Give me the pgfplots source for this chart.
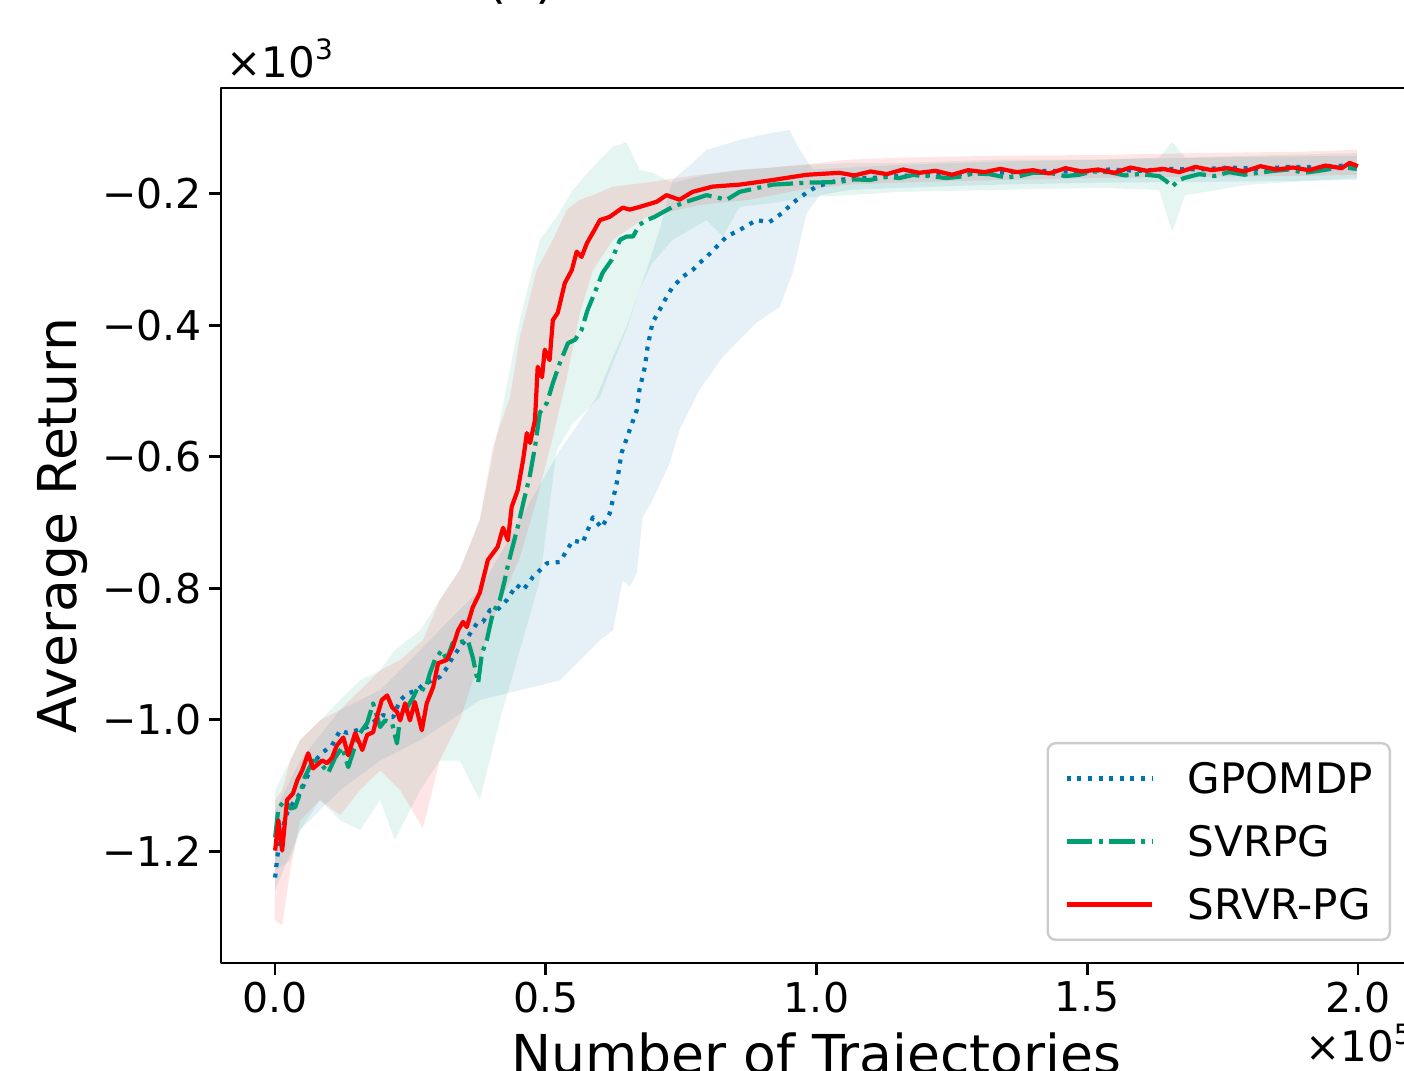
\documentclass[border=0pt]{standalone}
\usepackage{fontspec}
\setmainfont{DejaVu Sans}
\usepackage{pgfplots}
\pgfplotsset{compat=1.18}
\definecolor{cbblue}{HTML}{0072B2}
\definecolor{cbgreen}{HTML}{009E73}
\definecolor{cbred}{HTML}{FF0000}
\begin{document}
\begin{tikzpicture}
\begin{axis}[
  scale only axis, width=595.5pt, height=437.5pt,
  xmin=-0.1, xmax=2.1, ymin=-1.370, ymax=-0.039,
  axis line style={line width=1.35pt},
  every tick/.style={black, line width=1.35pt},
  major tick length=6pt, tick align=outside,
  xtick pos=bottom, ytick pos=left,
  xtick={0,0.5,1,1.5,2}, xticklabels={0.0,0.5,1.0,1.5,2.0},
  ytick={-1.2,-1.0,-0.8,-0.6,-0.4,-0.2},
  yticklabels={−1.2,−1.0,−0.8,−0.6,−0.4,−0.2},
  ticklabel style={font=\fontsize{20.5}{24}\selectfont},
  xlabel={Number of Trajectories},
  ylabel={Average Return},
  xlabel style={at={(axis description cs:0.5,-0.1264)}, anchor=base, font=\fontsize{26.8}{30}\selectfont},
  ylabel style={at={(axis description cs:-0.1212,0.5)}, anchor=base, rotate=0, font=\fontsize{26.8}{30}\selectfont},
  legend style={at={(axis description cs:1,0)}, anchor=south east, xshift=-10.5pt, yshift=11pt,
    draw=black!20, line width=1.2pt, rounded corners=4pt,
    fill=white, fill opacity=0.8, text opacity=1, draw opacity=1,
    font=\fontsize{21}{25}\selectfont,
    inner xsep=8.5pt, inner ysep=10pt, row sep=16.2pt, column sep=17pt,
    nodes={inner sep=0pt, text height=15.3pt, text depth=0pt}},
  legend cell align=left,
  legend image code/.code={\draw[#1] (0pt,0pt) -- (42.5pt,0pt);},
  line join=round,
]
% ---- bands ----
\addplot[fill=cbblue, fill opacity=0.1, draw=none, forget plot] coordinates {
(0,-1.138) (0.046,-1.062) (0.120,-0.985) (0.194,-0.955) (0.268,-0.894) (0.323,-0.848) (0.378,-0.803) (0.452,-0.696) (0.526,-0.590) (0.594,-0.509) (0.624,-0.448) (0.649,-0.402) (0.686,-0.316) (0.710,-0.255) (0.734,-0.179) (0.771,-0.153) (0.797,-0.133) (0.830,-0.125) (0.858,-0.118) (0.890,-0.112) (0.919,-0.107) (0.950,-0.103) (0.969,-0.133) (0.993,-0.163) (1.061,-0.160) (1.153,-0.156) (1.338,-0.151) (1.522,-0.148) (1.707,-0.145) (1.998,-0.142)
(1.998,-0.179) (1.707,-0.182) (1.522,-0.183) (1.338,-0.186) (1.153,-0.191) (1.061,-0.194) (1.006,-0.202) (0.982,-0.229) (0.963,-0.296) (0.956,-0.320) (0.932,-0.372) (0.889,-0.396) (0.827,-0.448) (0.784,-0.498) (0.747,-0.559) (0.729,-0.609) (0.697,-0.666) (0.679,-0.692) (0.668,-0.777) (0.655,-0.798) (0.642,-0.788) (0.624,-0.864) (0.600,-0.879) (0.526,-0.940) (0.452,-0.955) (0.378,-0.970) (0.323,-1.001) (0.268,-1.031) (0.194,-1.062) (0.120,-1.107) (0.046,-1.168) (0,-1.259)
} -- cycle;
\addplot[fill=cbgreen, fill opacity=0.1, draw=none, forget plot] coordinates {
(0,-1.107) (0.028,-1.062) (0.046,-1.031) (0.083,-1.001) (0.120,-0.970) (0.157,-0.940) (0.194,-0.925) (0.221,-0.894) (0.268,-0.864) (0.304,-0.818) (0.341,-0.772) (0.378,-0.696) (0.415,-0.544) (0.452,-0.392) (0.489,-0.270) (0.520,-0.235) (0.550,-0.194) (0.575,-0.170) (0.600,-0.148) (0.624,-0.128) (0.649,-0.122) (0.673,-0.163) (0.697,-0.168) (0.734,-0.183) (0.797,-0.171) (0.827,-0.167) (0.858,-0.163) (0.919,-0.160) (0.982,-0.156) (1.061,-0.153) (1.153,-0.153) (1.338,-0.148) (1.522,-0.148) (1.633,-0.145) (1.657,-0.121) (1.681,-0.145) (1.799,-0.142) (1.998,-0.138)
(1.998,-0.176) (1.799,-0.186) (1.681,-0.202) (1.657,-0.258) (1.633,-0.194) (1.522,-0.191) (1.338,-0.194) (1.153,-0.197) (1.061,-0.202) (0.982,-0.205) (0.919,-0.214) (0.858,-0.220) (0.827,-0.265) (0.797,-0.240) (0.734,-0.270) (0.697,-0.305) (0.673,-0.346) (0.649,-0.407) (0.624,-0.457) (0.600,-0.509) (0.550,-0.549) (0.520,-0.590) (0.489,-0.788) (0.452,-0.894) (0.415,-1.001) (0.378,-1.122) (0.341,-1.062) (0.304,-1.062) (0.268,-1.107) (0.221,-1.183) (0.194,-1.122) (0.157,-1.168) (0.120,-1.153) (0.083,-1.122) (0.046,-1.168) (0.028,-1.214) (0,-1.229)
} -- cycle;
\addplot[fill=cbred, fill opacity=0.1, draw=none, forget plot] coordinates {
(0,-1.122) (0.013,-1.107) (0.028,-1.062) (0.046,-1.031) (0.083,-1.001) (0.120,-0.985) (0.157,-0.955) (0.194,-0.925) (0.231,-0.909) (0.273,-0.879) (0.304,-0.818) (0.341,-0.772) (0.378,-0.696) (0.402,-0.585) (0.434,-0.509) (0.452,-0.418) (0.483,-0.316) (0.513,-0.270) (0.539,-0.224) (0.563,-0.209) (0.587,-0.202) (0.624,-0.189) (0.686,-0.183) (0.784,-0.171) (0.876,-0.163) (0.969,-0.156) (1.061,-0.148) (1.153,-0.145) (1.338,-0.142) (1.522,-0.141) (1.707,-0.138) (1.891,-0.136) (1.998,-0.133)
(1.998,-0.171) (1.891,-0.173) (1.707,-0.174) (1.522,-0.176) (1.338,-0.179) (1.153,-0.183) (1.061,-0.186) (0.969,-0.194) (0.876,-0.209) (0.784,-0.217) (0.686,-0.235) (0.624,-0.270) (0.587,-0.316) (0.563,-0.381) (0.539,-0.479) (0.513,-0.570) (0.483,-0.666) (0.452,-0.753) (0.434,-0.788) (0.402,-0.848) (0.378,-0.909) (0.341,-1.001) (0.304,-1.062) (0.273,-1.165) (0.231,-1.107) (0.194,-1.077) (0.157,-1.107) (0.120,-1.145) (0.083,-1.122) (0.046,-1.153) (0.028,-1.229) (0.013,-1.313) (0,-1.305)
} -- cycle;
% ---- GPOMDP ----
\addplot[cbblue, line width=2.1pt, dash pattern=on 2pt off 3.3pt] coordinates {
(0,-1.240) (0.004,-1.209) (0.009,-1.179) (0.022,-1.142) (0.033,-1.127) (0.046,-1.112) (0.059,-1.087) (0.074,-1.062) (0.089,-1.049) (0.105,-1.039) (0.120,-1.016) (0.133,-1.020) (0.151,-1.016) (0.170,-1.011) (0.185,-1.001) (0.199,-0.993) (0.218,-0.996) (0.231,-0.970) (0.245,-0.960) (0.262,-0.955) (0.273,-0.947) (0.290,-0.940) (0.304,-0.935) (0.314,-0.925) (0.328,-0.905) (0.341,-0.890) (0.356,-0.874) (0.373,-0.853) (0.384,-0.851) (0.397,-0.833) (0.410,-0.833) (0.428,-0.818) (0.446,-0.795) (0.458,-0.803) (0.476,-0.783) (0.502,-0.762) (0.526,-0.760) (0.550,-0.727) (0.568,-0.731) (0.587,-0.692) (0.603,-0.708) (0.618,-0.686) (0.631,-0.640) (0.640,-0.594) (0.655,-0.559) (0.668,-0.529) (0.673,-0.498) (0.683,-0.463) (0.688,-0.433) (0.697,-0.396) (0.710,-0.377) (0.723,-0.357) (0.734,-0.342) (0.753,-0.326) (0.771,-0.316) (0.784,-0.305) (0.797,-0.296) (0.815,-0.281) (0.834,-0.265) (0.858,-0.255) (0.889,-0.240) (0.913,-0.243) (0.937,-0.229) (0.956,-0.214) (0.982,-0.198) (1.000,-0.189) (1.024,-0.183) (1.042,-0.179)
(1.07,-0.176) (1.10,-0.176) (1.153,-0.173) (1.208,-0.171) (1.264,-0.170) (1.319,-0.168) (1.375,-0.167) (1.430,-0.165) (1.485,-0.167) (1.541,-0.163) (1.596,-0.165) (1.651,-0.162) (1.707,-0.163) (1.762,-0.160) (1.817,-0.162) (1.873,-0.159) (1.928,-0.160) (1.974,-0.157) (1.998,-0.159)
};
\addlegendentry{GPOMDP}
% ---- SVRPG ----
\addplot[cbgreen, line width=2.1pt, dash pattern=on 12.8pt off 3.2pt on 2pt off 3.2pt] coordinates {
(0,-1.179) (0.006,-1.135) (0.018,-1.122) (0.028,-1.135) (0.037,-1.133) (0.046,-1.112) (0.055,-1.087) (0.070,-1.062) (0.083,-1.065) (0.098,-1.081) (0.111,-1.057) (0.124,-1.042) (0.135,-1.072) (0.148,-1.039) (0.157,-1.020) (0.170,-1.005) (0.181,-0.975) (0.194,-1.011) (0.203,-1.001) (0.216,-1.005) (0.225,-1.036) (0.231,-0.996) (0.244,-0.981) (0.255,-0.966) (0.264,-0.950) (0.277,-0.955) (0.286,-0.929) (0.295,-0.909) (0.308,-0.894) (0.317,-0.909) (0.328,-0.883) (0.341,-0.882) (0.356,-0.879) (0.365,-0.905) (0.375,-0.944) (0.382,-0.899) (0.391,-0.879) (0.402,-0.838) (0.415,-0.818) (0.424,-0.788) (0.430,-0.765) (0.437,-0.742) (0.448,-0.707) (0.461,-0.661) (0.470,-0.631) (0.480,-0.585) (0.489,-0.533) (0.502,-0.518) (0.513,-0.488) (0.526,-0.457) (0.541,-0.427) (0.554,-0.422) (0.566,-0.407) (0.577,-0.377) (0.590,-0.351) (0.605,-0.320) (0.622,-0.300) (0.637,-0.270) (0.649,-0.265) (0.661,-0.265) (0.673,-0.247) (0.686,-0.240) (0.701,-0.235) (0.714,-0.229) (0.734,-0.220) (0.760,-0.212) (0.797,-0.202) (0.834,-0.209) (0.858,-0.197) (0.919,-0.186) (0.982,-0.183)
(1.042,-0.182) (1.07,-0.178) (1.098,-0.179) (1.13,-0.174) (1.153,-0.176) (1.18,-0.171) (1.208,-0.173) (1.24,-0.176) (1.264,-0.174) (1.29,-0.169) (1.319,-0.170) (1.35,-0.175) (1.375,-0.173) (1.40,-0.168) (1.430,-0.168) (1.46,-0.173) (1.485,-0.171) (1.51,-0.166) (1.541,-0.167) (1.57,-0.172) (1.596,-0.170) (1.633,-0.173) (1.645,-0.180) (1.657,-0.189) (1.668,-0.180) (1.679,-0.176) (1.707,-0.170) (1.735,-0.173) (1.762,-0.167) (1.79,-0.171) (1.817,-0.168) (1.845,-0.165) (1.873,-0.163) (1.90,-0.168) (1.928,-0.165) (1.95,-0.162) (1.974,-0.160) (1.998,-0.162)
};
\addlegendentry{SVRPG}
% ---- SRVR-PG ----
\addplot[cbred, line width=2.1pt] coordinates {
(0,-1.199) (0.006,-1.153) (0.013,-1.199) (0.022,-1.122) (0.033,-1.112) (0.041,-1.092) (0.050,-1.077) (0.061,-1.051) (0.070,-1.074) (0.087,-1.062) (0.096,-1.066) (0.105,-1.058) (0.114,-1.039) (0.126,-1.027) (0.135,-1.054) (0.148,-1.020) (0.161,-1.046) (0.170,-1.023) (0.181,-1.019) (0.190,-0.990) (0.197,-0.970) (0.207,-0.963) (0.216,-0.981) (0.225,-0.988) (0.231,-1.001) (0.240,-0.975) (0.249,-1.001) (0.258,-0.973) (0.271,-1.016) (0.280,-0.975) (0.292,-0.950) (0.301,-0.914) (0.317,-0.909) (0.328,-0.890) (0.338,-0.864) (0.347,-0.851) (0.354,-0.859) (0.365,-0.829) (0.378,-0.807) (0.393,-0.757) (0.411,-0.737) (0.421,-0.708) (0.430,-0.727) (0.437,-0.676) (0.448,-0.651) (0.458,-0.605) (0.465,-0.564) (0.471,-0.579) (0.480,-0.544) (0.485,-0.463) (0.493,-0.479) (0.498,-0.437) (0.507,-0.453) (0.513,-0.392) (0.522,-0.381) (0.535,-0.336) (0.548,-0.316) (0.557,-0.288) (0.566,-0.296) (0.576,-0.275) (0.587,-0.259) (0.600,-0.240) (0.618,-0.235) (0.642,-0.221) (0.655,-0.224) (0.673,-0.220) (0.705,-0.212) (0.723,-0.202) (0.747,-0.209) (0.771,-0.197) (0.808,-0.189) (0.858,-0.186) (0.919,-0.179) (0.982,-0.171) (1.042,-0.168)
(1.07,-0.172) (1.10,-0.166) (1.13,-0.170) (1.16,-0.163) (1.19,-0.168) (1.22,-0.165) (1.25,-0.171) (1.28,-0.164) (1.31,-0.167) (1.34,-0.162) (1.37,-0.167) (1.40,-0.164) (1.43,-0.169) (1.46,-0.161) (1.49,-0.166) (1.52,-0.163) (1.55,-0.168) (1.58,-0.160) (1.61,-0.165) (1.64,-0.162) (1.67,-0.167) (1.70,-0.159) (1.73,-0.164) (1.76,-0.161) (1.79,-0.166) (1.82,-0.158) (1.85,-0.163) (1.88,-0.160) (1.91,-0.164) (1.94,-0.157) (1.97,-0.161) (1.985,-0.153) (2.0,-0.158)
};
\addlegendentry{SRVR-PG}
\end{axis}
\node[anchor=base west, inner sep=0pt, font=\fontsize{21}{25}\selectfont] at (2.5pt,442.5pt) {×10\raisebox{9pt}{\fontsize{14}{14}\selectfont 3}};
\node[anchor=base east, inner sep=0pt, font=\fontsize{21}{25}\selectfont] at (595.5pt,-49.5pt) {×10\raisebox{9pt}{\fontsize{14}{14}\selectfont 5}};
\node[anchor=base west, inner sep=0pt, font=\fontsize{26}{30}\selectfont] at (132.5pt,482.5pt) {(c) Pendulum};
\pgfresetboundingbox
\useasboundingbox (-110.5pt,-54pt) rectangle (591.5pt,481.5pt);
\end{tikzpicture}
\end{document}
